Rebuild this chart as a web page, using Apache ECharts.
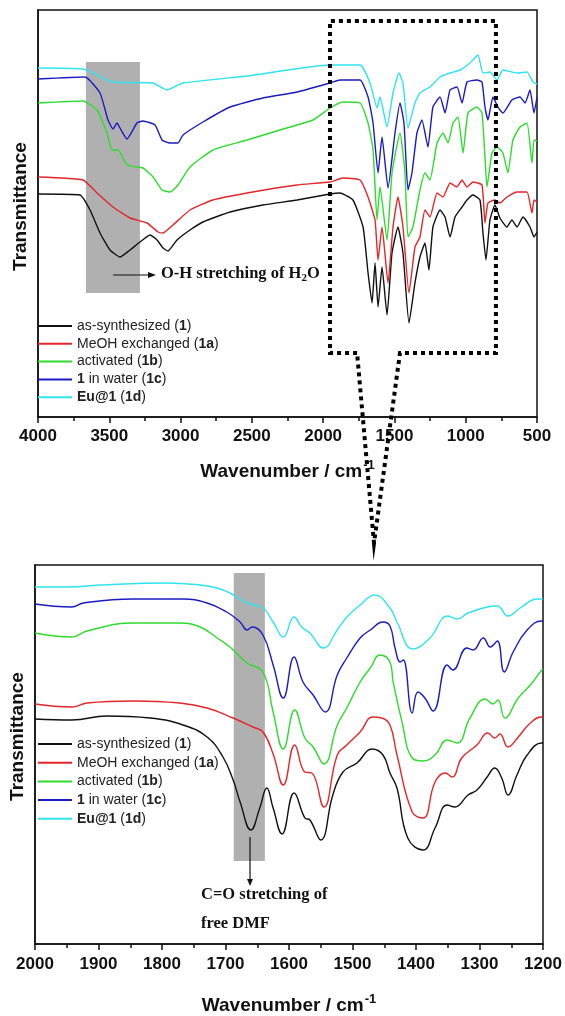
<!DOCTYPE html>
<html>
<head>
<meta charset="utf-8">
<script src="https://cdn.jsdelivr.net/npm/echarts@6/dist/echarts.min.js"></script>
<style>
html, body { margin: 0; padding: 0; background: #fff; }
#chart { width: 565px; height: 1016px; }
</style>
</head>
<body>
<div id="chart"></div>
<script>
// series names / colours (same order in both panels)
const seriesNames = ['as-synthesized (1)', 'MeOH exchanged (1a)', 'activated (1b)', '1 in water (1c)', 'Eu@1 (1d)']
const colors = ['#111111', '#e3262a', '#2edc2e', '#1b1bc4', '#2fe3ef']

// top panel: 4000 - 500 cm-1, [wavenumber, transmittance (a.u.)]
const topBlack = [[4000,223],[3705,222],[3635,207],[3565,184],[3495,167],[3425,160],[3355,167],[3285,175],[3214,182],[3165,177],[3123,169],[3088,166],[3025,177],[2934,187],[2843,195],[2653,205],[2422,212],[2183,217],[1952,223],[1882,224],[1791,217],[1720,190],[1685,144],[1657,114],[1636,154],[1615,110],[1587,150],[1552,102],[1517,164],[1475,190],[1440,164],[1398,94],[1356,134],[1321,160],[1286,174],[1258,147],[1230,190],[1180,207],[1145,200],[1110,180],[1075,200],[1026,210],[991,217],[949,222],[900,217],[879,184],[858,157],[830,197],[795,212],[760,199],[711,190],[676,197],[640,190],[598,200],[549,190],[521,180],[500,185]]
const topRed = [[4000,240],[3684,237],[3586,224],[3474,210],[3355,199],[3235,194],[3158,185],[3123,184],[3053,192],[2934,207],[2773,217],[2534,224],[2183,232],[1952,235],[1861,239],[1741,237],[1685,220],[1636,197],[1615,157],[1587,190],[1545,134],[1510,190],[1475,220],[1440,190],[1398,124],[1356,170],[1321,180],[1286,207],[1251,200],[1201,224],[1159,220],[1110,234],[1061,230],[1026,237],[991,230],[949,235],[886,232],[865,194],[844,214],[795,217],[760,214],[711,220],[640,225],[570,225],[535,204],[521,217],[500,215]]
const topGreen = [[4000,314],[3684,316],[3586,307],[3516,284],[3481,267],[3439,267],[3376,252],[3264,249],[3193,240],[3130,227],[3074,225],[3018,232],[2934,250],[2773,267],[2534,277],[2303,287],[2071,297],[1952,309],[1861,315],[1741,314],[1685,294],[1650,267],[1622,197],[1601,230],[1552,177],[1517,244],[1461,284],[1426,244],[1405,180],[1370,190],[1321,227],[1286,244],[1251,237],[1201,274],[1159,284],[1124,274],[1089,294],[1054,300],[1019,264],[984,304],[921,310],[886,304],[865,260],[851,230],[816,264],[781,270],[739,264],[704,244],[669,277],[619,290],[570,294],[535,254],[521,277],[500,276]]
const topBlue = [[4000,338],[3670,340],[3565,324],[3509,297],[3474,288],[3446,294],[3425,289],[3376,278],[3306,294],[3264,296],[3179,292],[3130,277],[3074,274],[3018,274],[2983,282],[2843,295],[2653,310],[2422,319],[2183,325],[1952,334],[1882,337],[1741,337],[1685,320],[1650,294],[1615,244],[1587,280],[1545,229],[1496,284],[1461,314],[1433,294],[1405,227],[1377,244],[1342,284],[1307,297],[1265,270],[1230,310],[1180,320],[1145,304],[1110,327],[1061,330],[1026,314],[991,335],[921,337],[886,335],[865,310],[844,297],[809,320],[774,310],[739,304],[676,317],[619,320],[584,314],[549,327],[521,304],[500,320]]
const topCyan = [[4000,349],[3684,348],[3474,335],[3193,334],[3095,327],[2983,334],[2534,341],[1952,352],[1741,352],[1671,334],[1622,309],[1601,320],[1552,290],[1510,324],[1468,344],[1440,334],[1405,289],[1356,314],[1321,324],[1251,330],[1180,340],[1110,344],[1040,347],[970,354],[914,362],[879,344],[830,345],[781,337],[739,347],[640,344],[570,345],[528,335],[500,333]]

// bottom panel: 2000 - 1200 cm-1
const botBlack = [[2000,225],[1942,224],[1887,228],[1819,226],[1767,219],[1729,207],[1704,187],[1688,164],[1677,142],[1660,114],[1646,136],[1635,156],[1625,136],[1611,110],[1592,151],[1575,126],[1567,124],[1550,104],[1531,149],[1515,172],[1493,181],[1469,195],[1452,189],[1441,171],[1430,156],[1413,106],[1389,94],[1370,116],[1351,139],[1339,137],[1318,149],[1304,154],[1288,167],[1276,176],[1265,166],[1255,149],[1241,169],[1225,189],[1202,201],[1200,201]]
const botRed = [[2000,240],[1942,237],[1918,241],[1846,243],[1772,241],[1729,236],[1688,226],[1657,217],[1641,212],[1625,190],[1609,159],[1591,199],[1575,172],[1564,171],[1545,137],[1524,189],[1509,199],[1488,212],[1468,227],[1454,226],[1441,219],[1430,189],[1406,132],[1389,126],[1370,162],[1354,171],[1343,167],[1328,186],[1304,199],[1287,211],[1276,206],[1268,210],[1255,197],[1239,207],[1220,221],[1202,227],[1200,227]]
const botGreen = [[2000,311],[1942,307],[1918,313],[1846,321],[1772,321],[1740,317],[1713,306],[1693,297],[1666,281],[1641,272],[1625,232],[1609,195],[1591,234],[1575,206],[1562,197],[1545,180],[1524,219],[1509,236],[1488,262],[1472,276],[1457,289],[1441,282],[1436,262],[1422,222],[1406,186],[1389,183],[1370,189],[1351,204],[1335,201],[1315,226],[1291,245],[1279,240],[1271,244],[1260,226],[1239,246],[1220,259],[1202,274],[1200,275]]
const botBlue = [[2000,340],[1942,337],[1924,341],[1846,345],[1767,345],[1729,341],[1698,332],[1677,322],[1666,314],[1658,317],[1641,309],[1625,279],[1609,246],[1592,287],[1578,262],[1562,249],[1543,232],[1524,269],[1509,286],[1488,306],[1472,314],[1452,322],[1441,318],[1433,296],[1425,282],[1420,284],[1406,231],[1397,252],[1386,246],[1373,233],[1351,279],[1342,274],[1320,296],[1310,294],[1294,306],[1283,297],[1272,303],[1261,272],[1247,292],[1225,314],[1202,323],[1200,323]]
const botCyan = [[2000,357],[1945,357],[1898,359],[1792,361],[1740,359],[1713,356],[1693,351],[1666,341],[1641,336],[1625,322],[1609,307],[1592,327],[1580,317],[1567,311],[1546,296],[1524,314],[1509,327],[1488,339],[1465,349],[1441,336],[1430,322],[1405,295],[1378,306],[1350,328],[1335,325],[1318,331],[1288,337],[1272,338],[1255,328],[1236,336],[1209,345],[1200,345]]

// shaded bands [wn from, wn to, value low, value high]
const topBand = [3664, 3285, 124, 355]
const botBand = [1687, 1638, 83, 371]

const topSeries = [topBlack, topRed, topGreen, topBlue, topCyan]
const botSeries = [botBlack, botRed, botGreen, botBlue, botCyan]

const legendLabels = {
  'as-synthesized (1)': '{n|as-synthesized (}{b|1}{n|)}',
  'MeOH exchanged (1a)': '{n|MeOH exchanged (}{b|1a}{n|)}',
  'activated (1b)': '{n|activated (}{b|1b}{n|)}',
  '1 in water (1c)': '{b|1}{n| in water (}{b|1c}{n|)}',
  'Eu@1 (1d)': '{b|Eu@1}{n| (}{b|1d}{n|)}',
}
const legendRich = {
  n: { fontFamily: 'Arial', fontSize: 14, color: '#222' },
  b: { fontFamily: 'Arial', fontSize: 14, fontWeight: 'bold', color: '#222' },
}

const axisColor = '#111'

function xAxisCfg(gi, min, max, interval, nameGap, labelMargin) {
  return {
    type: 'value', gridIndex: gi, min, max, interval, inverse: true,
    name: '{a|Wavenumber / cm}{s|-1}',
    nameLocation: 'middle',
    nameGap: nameGap,
    nameTextStyle: {
      rich: {
        a: { fontFamily: 'Arial', fontWeight: 'bold', fontSize: 19, color: axisColor },
        s: { fontFamily: 'Arial', fontWeight: 'bold', fontSize: 13, color: axisColor, verticalAlign: 'top', padding: [0, 0, 12, 1] },
      },
    },
    axisLine: { onZero: false, lineStyle: { color: axisColor, width: 1.5 } },
    axisTick: { inside: false, length: 6, lineStyle: { color: axisColor, width: 1.5 } },
    minorTick: { show: true, splitNumber: 2, length: 4, lineStyle: { color: axisColor, width: 1.5 } },
    axisLabel: {
      fontFamily: 'Arial', fontWeight: 'bold', fontSize: 17, color: axisColor, margin: labelMargin,
      formatter: v => String(v),
    },
    splitLine: { show: false },
  }
}

function yAxisCfg(gi, max, shiftUp) {
  return {
    type: 'value', gridIndex: gi, min: 0, max,
    name: 'Transmittance', nameLocation: 'middle', nameRotate: 90, nameGap: 8,
    nameTextStyle: {
      fontFamily: 'Arial', fontWeight: 'bold', fontSize: 19, color: axisColor,
      padding: [0, 0, 0, shiftUp * 2],
    },
    axisLine: { show: true, lineStyle: { color: axisColor, width: 1.5 } },
    axisTick: { show: false },
    axisLabel: { show: false },
    splitLine: { show: false },
  }
}

function legendCfg(top, gap) {
  return {
    left: 38, top, padding: 0, orient: 'vertical', icon: 'rect',
    itemWidth: 34, itemHeight: 2, itemGap: gap,
    selectedMode: false,
    data: seriesNames,
    formatter: n => legendLabels[n],
    textStyle: { rich: legendRich, lineHeight: 14 },
  }
}

function lineSeries(gi, data, i, smooth) {
  return {
    type: 'line', name: seriesNames[i], xAxisIndex: gi, yAxisIndex: gi,
    data, smooth, showSymbol: false, symbol: 'none',
    lineStyle: { color: colors[i], width: 1.4 },
    itemStyle: { color: colors[i] },
    z: 2,
  }
}

function bandSeries(gi, band) {
  return {
    type: 'line', xAxisIndex: gi, yAxisIndex: gi, data: [], z: 5,
    markArea: {
      silent: true,
      itemStyle: { color: 'rgba(128,128,128,0.62)' },
      data: [[{ coord: [band[0], band[3]] }, { coord: [band[1], band[2]] }]],
    },
  }
}

const option = {
  animation: false,
  backgroundColor: '#fff',
  grid: [
    { left: 38, top: 10, width: 499, height: 407, show: true, borderColor: axisColor, borderWidth: 1.5 },
    { left: 35, top: 565, width: 508, height: 379, show: true, borderColor: axisColor, borderWidth: 1.5 },
  ],
  xAxis: [xAxisCfg(0, 500, 4000, 500, 42, 11), xAxisCfg(1, 1200, 2000, 100, 49, 12)],
  yAxis: [yAxisCfg(0, 407, 7), yAxisCfg(1, 379, 18)],
  legend: [legendCfg(319, 3.8), legendCfg(737, 4.7)],
  series: [
    ...topSeries.map((d, i) => lineSeries(0, d, i, 0.15)),
    ...botSeries.map((d, i) => lineSeries(1, d, i, 0.45)),
    bandSeries(0, topBand),
    bandSeries(1, botBand),
  ],
}

const chart = echarts.init(document.getElementById('chart'))
chart.setOption(option)

// dotted zoom box + connector, annotations
const px = (gi, w, v) => chart.convertToPixel({ xAxisIndex: gi, yAxisIndex: gi }, [w, v])
const tl = px(0, 1952, 396)
const br = px(0, 788, 64)
const gapL = px(0, 1762, 64)
const gapR = px(0, 1461, 64)
const apex = [374, 543]

const serif = '"Liberation Serif", "Times New Roman", serif'
chart.setOption({
  graphic: [
    {
      type: 'polyline', z: 10, silent: true,
      shape: { points: [gapL, [tl[0], br[1]], tl, [br[0], tl[1]], br, gapR, apex, gapL] },
      style: { fill: null, stroke: '#000', lineWidth: 4, lineDash: [4, 4] },
    },
    // O-H arrow
    { type: 'line', z: 10, shape: { x1: 113, y1: 275, x2: 150, y2: 275 }, style: { stroke: '#111', lineWidth: 1.2 } },
    { type: 'polygon', z: 10, shape: { points: [[156, 275], [148, 272], [148, 278]] }, style: { fill: '#111' } },
    {
      type: 'text', z: 10, left: 161, top: 265,
      style: {
        text: '{t|O-H stretching of H}{s|2}{t|O}',
        rich: {
          t: { fontFamily: serif, fontWeight: 'bold', fontSize: 16.5, fill: '#111' },
          s: { fontFamily: serif, fontWeight: 'bold', fontSize: 11, fill: '#111', padding: [10, 0, 0, 0] },
        },
      },
    },
    // C=O arrow
    { type: 'line', z: 10, shape: { x1: 250, y1: 837, x2: 250, y2: 880 }, style: { stroke: '#111', lineWidth: 1.2 } },
    { type: 'polygon', z: 10, shape: { points: [[250, 886], [247, 879], [253, 879]] }, style: { fill: '#111' } },
    {
      type: 'text', z: 10, left: 201, top: 886,
      style: { text: 'C=O stretching of', font: 'bold 16.5px ' + serif, fill: '#111' },
    },
    {
      type: 'text', z: 10, left: 201, top: 915,
      style: { text: 'free DMF', font: 'bold 16.5px ' + serif, fill: '#111' },
    },
  ],
})
</script>
</body>
</html>
